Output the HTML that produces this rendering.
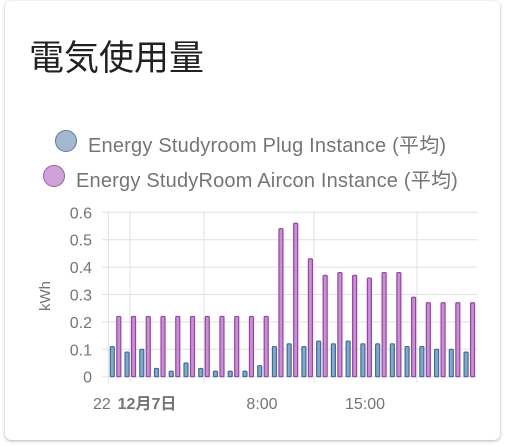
<!DOCTYPE html>
<html><head><meta charset="utf-8"><style>
body{margin:0;background:#fff;width:505px;height:447px;overflow:hidden;font-family:"Liberation Sans","Noto Sans CJK JP",sans-serif}
.card{position:absolute;left:5px;top:1px;width:495px;height:439px;border-radius:6px;box-shadow:0 1px 3px rgba(0,0,0,.3);background:#fff}
.title{position:absolute;left:29px;top:30px;font-size:35px;color:#212121;font-family:"Noto Sans CJK JP",sans-serif}
.leg{position:absolute;font-size:20px;letter-spacing:0.2px;color:#757575;white-space:nowrap}
.dot{position:absolute;width:20px;height:20px;border-radius:50%}
</style></head><body>
<div class="card"></div>
<div class="title">電気使用量</div>
<div class="dot" style="left:55px;top:130px;background:#a3b8cf;border:1px solid #5b7a9c"></div>
<div class="leg" style="left:88px;top:129px">Energy Studyroom Plug Instance (平均)</div>
<div class="dot" style="left:43px;top:165px;background:#cfa3d8;border:1px solid #9a5aa6"></div>
<div class="leg" style="left:76px;top:164px">Energy StudyRoom Aircon Instance (平均)</div>
<svg id="c" width="505" height="447" style="position:absolute;left:0;top:0"></svg>
<script>
const plug=[.11,.09,.10,.03,.02,.05,.03,.02,.02,.02,.04,.11,.12,.11,.13,.12,.13,.12,.12,.12,.11,.11,.10,.10,.09];
const aircon=[.22,.22,.22,.22,.22,.22,.22,.22,.22,.22,.22,.54,.56,.43,.37,.38,.37,.36,.38,.38,.29,.27,.27,.27,.27];
const yTicks=[0,0.1,0.2,0.3,0.4,0.5,0.6];
const yTickLabels=["0","0.1","0.2","0.3","0.4","0.5","0.6"];
const xLabels=["22","12月7日","8:00","15:00"];
const svg=document.getElementById('c');const NS='http://www.w3.org/2000/svg';
const L=96,R=477,Y0=376.7,Y6=212.3;
const y=v=>Y0-(v/0.6)*(Y0-Y6);
const x=i=>112.3+i*14.74;
function mk(t,a,p){const e=document.createElementNS(NS,t);for(const k in a)e.setAttribute(k,a[k]);(p||svg).appendChild(e);return e;}
yTicks.forEach((t,i)=>{
 const g=mk('line',{x1:L+6,x2:R,y1:y(t),y2:y(t),stroke:'#e0e0e0'});
 
 
 const tx=mk('text',{x:92,y:y(t)+6,'text-anchor':'end','font-size':16,fill:'#757575','font-family':'Liberation Sans'});tx.textContent=yTickLabels[i];
 
 
});
[108.3,130,204,314,417].forEach(px=>{
 const g=mk('line',{x1:px,x2:px,y1:Y6,y2:Y0+6,stroke:'#e0e0e0'});
 
 
});
const t=mk('text',{x:50,y:296,'text-anchor':'middle','font-size':15,fill:'#757575',transform:'rotate(-90 50 296)','font-family':'Liberation Sans'});t.textContent='kWh';


plug.forEach((v,i)=>{
 const r=mk('rect',{x:x(i)-2,y:y(v),width:4,height:Y0-y(v),fill:'#86a8c8',stroke:'#3f6c99','stroke-width':1.2,rx:1});
 
 
});
aircon.forEach((v,i)=>{
 const r=mk('rect',{x:x(i)+4.5,y:y(v),width:4,height:Y0-y(v),fill:'#c88fd3',stroke:'#9643a6','stroke-width':1.2,rx:1});
 
 
});
const xl=[[93,'start'],[147,'middle'],[262,'middle'],[365,'middle']];
xLabels.forEach((s,i)=>{
 const tx=mk('text',{x:xl[i][0],y:409,'text-anchor':xl[i][1],'font-size':16,fill:'#757575','font-family':'Liberation Sans, Noto Sans CJK JP, sans-serif','font-weight':i==1?'bold':'normal'});tx.textContent=s;
 
 
});
</script>
</body></html>
